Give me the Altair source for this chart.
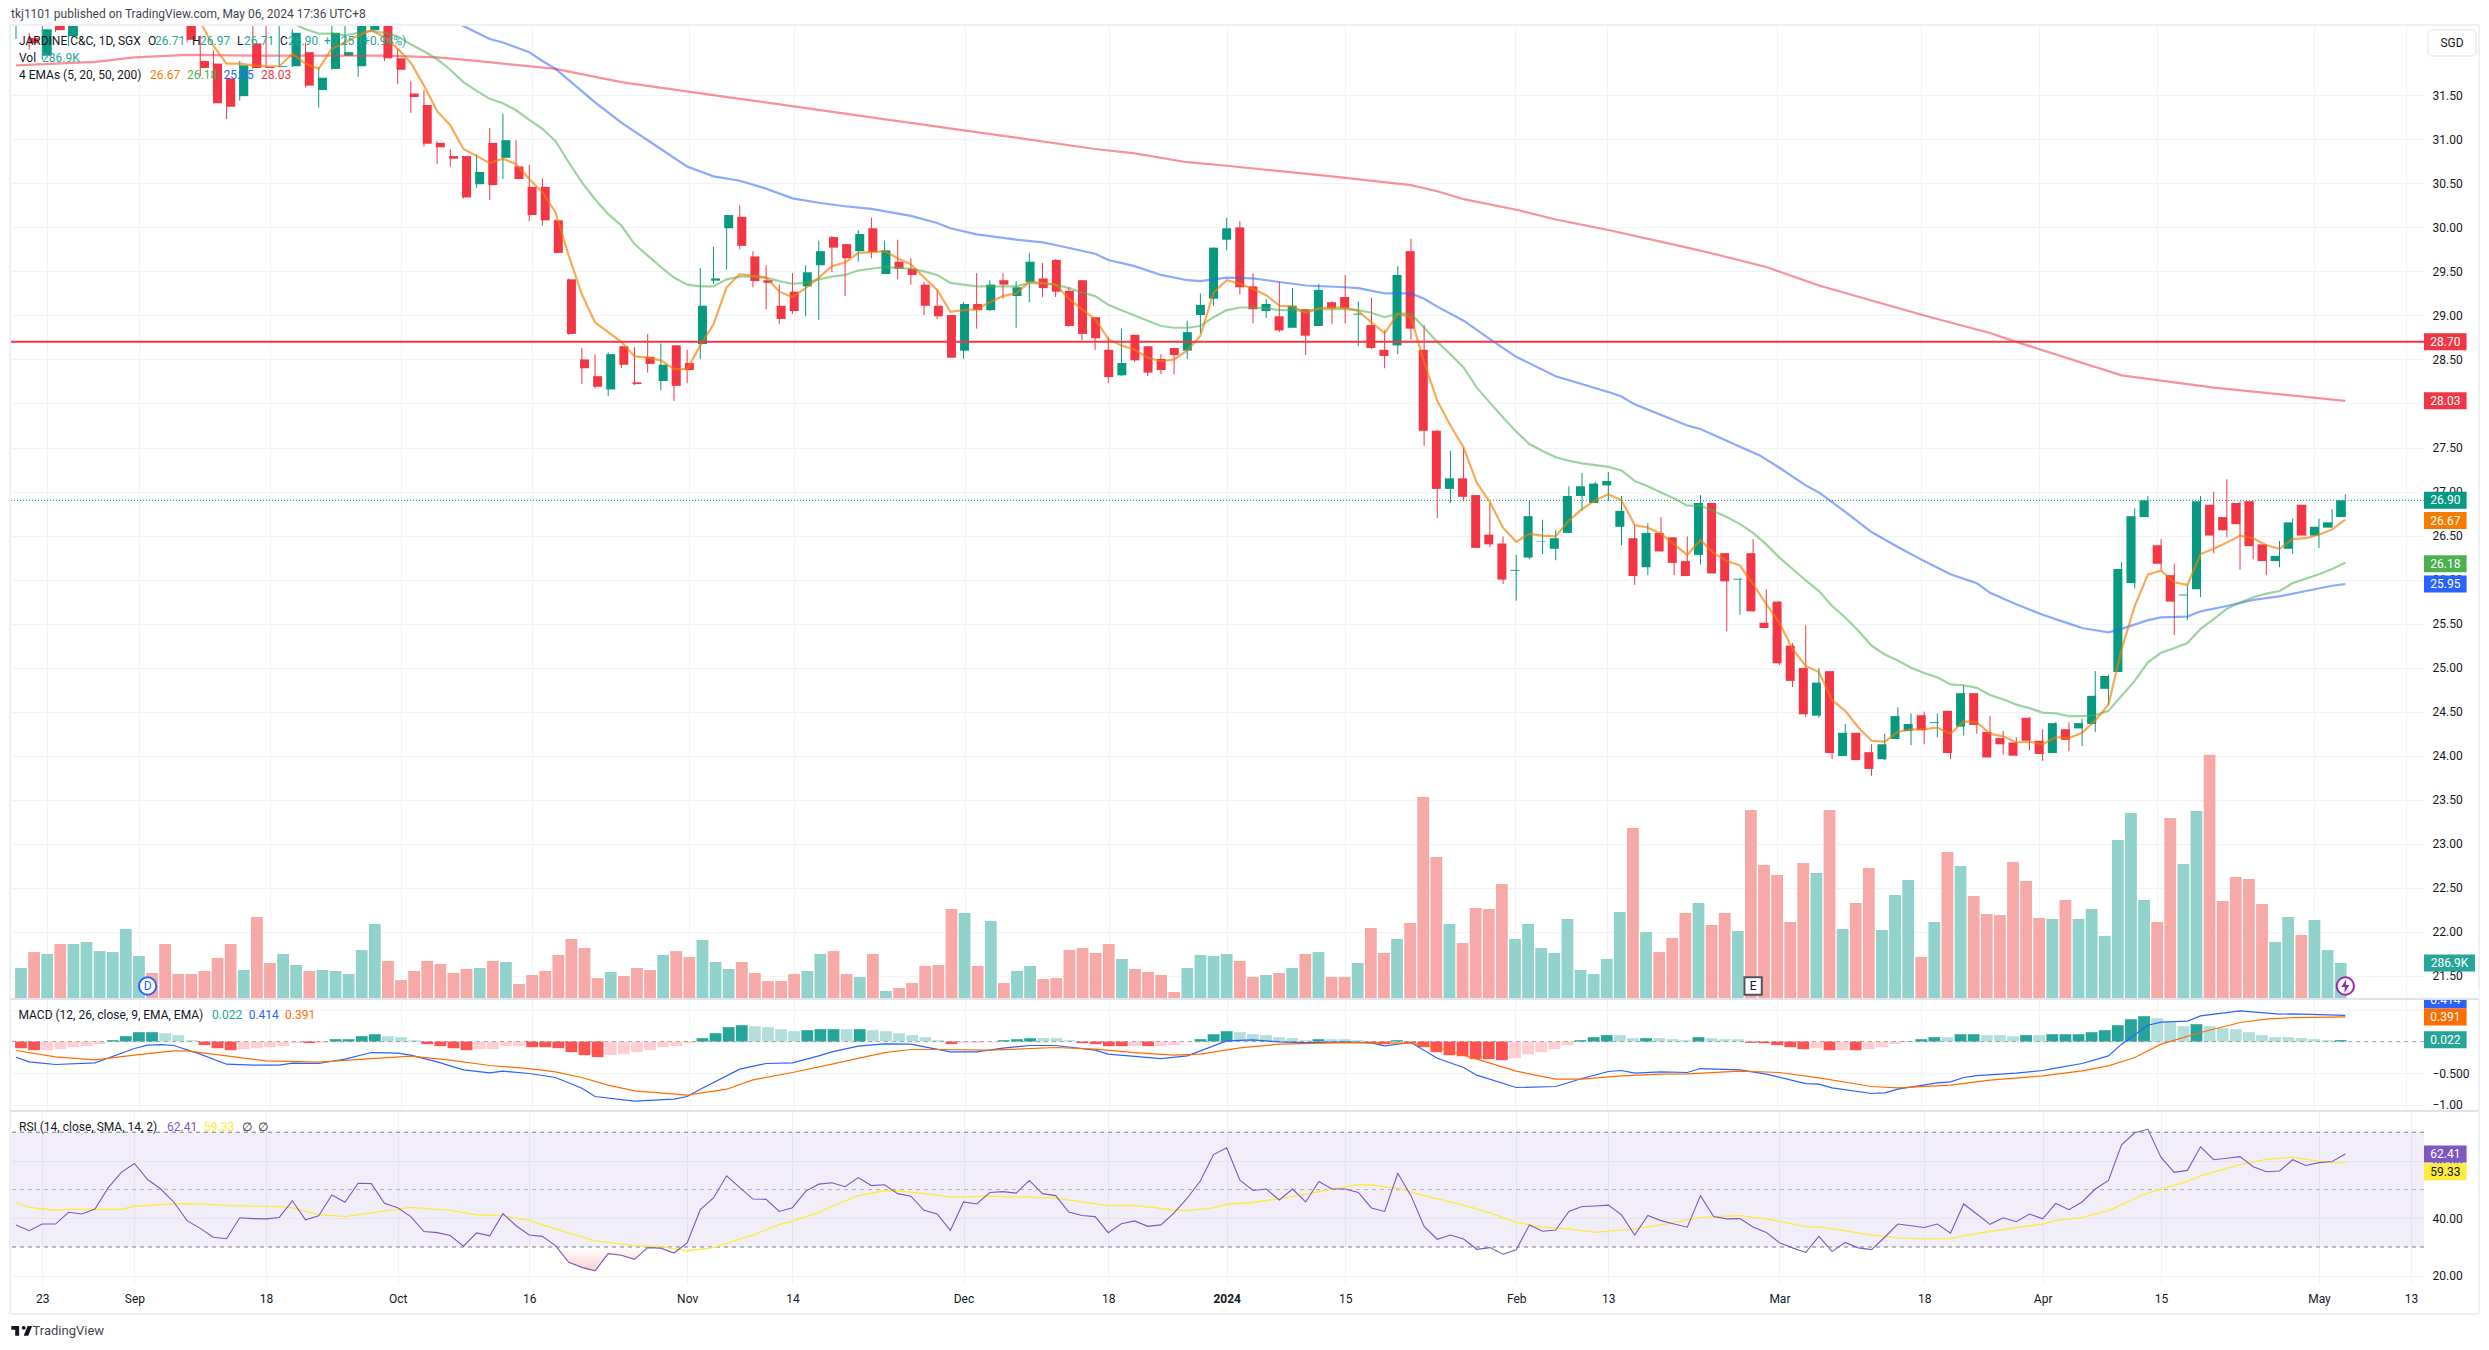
import altair as alt
import pandas as pd

FONT = "Roboto"
GRID = "#f2f3f6"
FRAME = "#eef0f6"
SEP = "#e0e3eb"
UP = "#089981"
DOWN = "#f23645"

# index of every traded bar runs 0..177; tick labels sit on these bars
tick_idx = [2, 9, 19, 29, 39, 51, 59, 72, 83, 92, 101, 114, 121, 134, 145, 154, 163, 175, 182]
tick_txt = ["23", "Sep", "18", "Oct", "16", "Nov", "14", "Dec", "18", "2024", "15", "Feb", "13", "Mar", "18", "Apr", "15", "May", "13"]

opens = [32.50,32.15,31.95,32.35,32.17,32.50,32.90,33.10,33.30,33.50,33.65,33.40,33.10,32.60,31.89,31.86,31.69,31.49,32.09,31.82,
31.82,31.83,31.99,31.56,31.80,31.95,31.83,32.24,32.40,31.92,31.52,31.39,30.96,30.81,30.81,30.49,30.96,30.79,30.69,30.46,
30.46,30.08,29.41,28.50,28.31,28.16,28.65,28.24,28.53,28.255,28.66,28.46,28.675,29.395,29.99,30.12,29.67,29.40,29.11,29.27,
29.33,29.57,29.89,29.81,29.73,29.99,29.47,29.61,29.53,29.35,29.11,29.005,28.60,29.13,29.06,29.40,29.22,29.38,29.42,29.63,
29.28,29.40,28.98,28.61,28.32,28.78,28.65,28.505,28.63,28.60,29.005,29.19,29.86,30.00,29.33,29.05,28.99,28.86,29.07,28.88,
29.15,29.21,29.01,28.89,28.61,28.66,29.73,28.61,27.69,27.03,27.15,26.96,26.51,26.41,26.10,26.25,26.43,26.35,26.53,26.95,
26.87,27.07,26.60,26.47,26.14,26.53,26.48,26.21,26.28,26.87,26.30,26.00,26.30,25.51,25.75,25.25,24.996,24.455,24.96,23.997,
24.26,24.04,23.96,24.19,24.28,24.46,24.37,24.51,24.33,24.71,24.27,24.20,24.15,24.43,24.17,24.03,24.30,24.31,24.36,24.76,
24.95,25.96,26.71,26.39,26.05,25.82,25.89,26.85,26.71,26.87,26.89,26.40,26.21,26.35,26.85,26.50,26.59,26.71]
highs = [32.80,32.21,32.35,32.40,32.40,33.00,33.20,33.40,33.60,33.70,33.70,33.50,33.20,32.70,32.18,32.01,31.69,31.89,32.35,32.40,
32.40,32.25,32.10,31.82,32.35,32.40,32.50,32.35,32.50,32.03,31.66,31.56,30.98,30.89,30.81,30.83,31.13,31.29,30.99,30.71,
30.56,30.09,29.42,28.63,28.56,28.58,28.65,28.64,28.79,28.68,28.66,28.61,29.54,29.78,30.14,30.25,29.73,29.57,29.35,29.48,
29.57,29.85,29.90,29.81,29.97,30.11,29.85,29.86,29.65,29.38,29.30,29.005,29.15,29.48,29.40,29.48,29.39,29.71,29.595,29.64,
29.32,29.40,28.98,28.755,28.85,28.78,28.65,28.56,28.63,28.94,29.25,29.77,30.11,30.07,29.48,29.19,29.38,29.31,29.07,29.36,
29.16,29.46,29.16,29.20,28.83,29.56,29.87,28.89,27.70,27.46,27.50,26.96,26.87,26.49,26.28,26.90,26.68,26.56,27.06,27.21,
27.11,27.22,26.95,26.62,26.64,26.71,26.48,26.49,26.96,26.87,26.30,26.01,26.46,25.89,25.75,25.28,25.48,24.995,24.96,24.36,
24.26,24.13,24.25,24.55,24.48,24.50,24.48,24.51,24.80,24.71,24.45,24.28,24.21,24.44,24.30,24.38,24.38,24.42,24.96,24.92,
26.20,26.81,26.95,26.46,26.18,25.94,26.95,27.00,27.14,26.89,26.89,26.40,26.44,26.69,26.85,26.69,26.80,26.97]
lows = [32.14,32.02,31.90,32.22,32.06,32.45,32.80,33.00,33.20,33.40,33.30,33.00,32.50,32.10,31.72,31.41,31.23,31.44,31.80,31.81,
31.82,31.82,31.59,31.36,31.79,31.95,31.71,32.24,31.89,31.63,31.30,30.92,30.72,30.69,30.33,30.45,30.31,30.55,30.55,30.07,
30.02,29.71,28.78,28.22,28.17,28.085,28.40,28.21,28.35,28.15,28.03,28.23,28.505,29.36,29.52,29.75,29.32,29.07,28.90,29.02,
28.99,28.95,29.49,29.22,29.61,29.65,29.47,29.41,29.35,29.005,28.96,28.52,28.505,28.85,29.05,29.19,28.86,29.15,29.21,29.21,
28.87,28.72,28.61,28.23,28.31,28.47,28.31,28.33,28.33,28.505,28.80,29.11,29.74,29.24,28.91,28.97,28.81,28.86,28.55,28.88,
28.90,28.91,28.65,28.62,28.40,28.56,28.73,27.52,26.70,26.87,26.89,26.36,26.37,25.95,25.76,26.23,26.29,26.22,26.53,26.78,
26.87,26.89,26.39,25.94,26.05,26.32,26.05,26.04,26.17,26.07,25.41,25.60,25.64,25.45,25.03,24.78,24.44,24.43,23.96,24.00,
23.95,23.77,23.95,24.19,24.12,24.13,24.21,23.96,24.23,24.25,23.98,24.01,24.00,24.06,23.94,24.03,24.05,24.11,24.27,24.58,
24.95,25.90,26.71,26.11,25.37,25.54,25.80,26.30,26.48,26.11,26.23,26.05,26.14,26.29,26.50,26.36,26.59,26.71]
closes = [32.70,32.09,32.25,32.24,32.35,32.90,33.10,33.30,33.50,33.65,33.40,33.10,32.60,32.13,31.81,31.41,31.37,31.84,31.81,31.81,
31.83,32.21,31.61,31.70,32.21,31.99,32.42,32.35,31.92,31.79,31.48,30.95,30.91,30.78,30.34,30.63,30.48,30.99,30.55,30.14,
30.08,29.71,28.79,28.40,28.19,28.56,28.44,28.22,28.45,28.44,28.20,28.38,29.11,29.42,30.14,29.79,29.39,29.37,28.96,29.05,
29.49,29.73,29.77,29.65,29.925,29.72,29.74,29.53,29.46,29.11,28.99,28.52,29.13,29.06,29.35,29.35,29.32,29.61,29.31,29.27,
28.88,28.79,28.74,28.30,28.46,28.49,28.35,28.38,28.55,28.81,29.12,29.77,29.99,29.32,29.07,29.13,28.83,29.11,28.77,29.29,
29.08,29.08,29.02,28.63,28.54,29.46,28.85,27.69,27.03,27.15,26.94,26.36,26.40,26.00,26.11,26.72,26.435,26.47,26.95,27.06,
27.09,27.12,26.78,26.04,26.53,26.32,26.19,26.04,26.87,26.07,25.98,26.01,25.64,25.45,25.05,24.85,24.47,24.83,24.03,24.26,
23.95,23.85,24.13,24.45,24.36,24.29,24.38,24.03,24.71,24.35,23.98,24.13,24.00,24.17,24.02,24.37,24.18,24.37,24.68,24.905,
26.12,26.72,26.90,26.18,25.75,25.83,26.89,26.50,26.56,26.63,26.38,26.21,26.27,26.65,26.50,26.60,26.65,26.90]
volume_k = [247,374,359,438,438,454,382,374,558,343,207,438,199,199,223,327,438,231,653,287,
359,271,223,231,223,199,390,598,303,151,223,303,279,207,239,247,303,295,120,191,
223,351,478,406,167,215,183,247,231,351,382,335,470,295,239,295,207,143,143,199,
223,359,382,199,175,359,64,88,127,263,271,717,685,263,622,127,223,263,159,167,
390,406,367,438,319,239,215,191,56,247,351,343,359,303,175,191,207,247,359,374,
175,175,287,566,367,478,606,1610,1131,598,446,725,717,916,478,598,406,367,637,231,
199,319,693,1363,534,374,486,685,765,590,685,542,1506,1068,988,614,1084,1004,1506,558,
765,1044,550,829,948,335,614,1171,1060,821,677,669,1092,940,645,637,789,637,717,502,
1267,1482,789,614,1442,1076,1498,1947,781,972,956,757,454,653,510,629,390,287]

ema5_start = 13
ema5 = [32.60,32.33,32.06,31.86,31.86,31.84,31.83,31.83,31.97,31.86,31.80,32.03,32.10,32.18,32.24,32.16,32.03,31.87,31.61,31.32,
31.16,30.89,30.81,30.73,30.78,30.72,30.55,30.40,30.17,29.68,29.24,28.92,28.81,28.70,28.535,28.52,28.49,28.39,28.39,28.66,
28.90,29.32,29.47,29.45,29.43,29.27,29.21,29.31,29.43,29.56,29.60,29.71,29.72,29.73,29.65,29.58,29.43,29.29,29.04,29.06,
29.07,29.15,29.22,29.25,29.38,29.37,29.35,29.19,29.07,28.96,28.73,28.66,28.61,28.52,28.48,28.50,28.60,28.77,29.26,29.40,
29.36,29.30,29.23,29.11,29.10,29.03,29.08,29.09,29.09,29.05,28.92,28.80,29.02,28.98,28.47,28.03,27.75,27.50,27.10,26.88,
26.59,26.43,26.52,26.50,26.49,26.67,26.80,26.90,26.97,26.90,26.62,26.59,26.52,26.40,26.28,26.45,26.30,26.21,26.16,25.95,
25.72,25.51,25.21,25.02,24.95,24.63,24.51,24.32,24.17,24.16,24.27,24.30,24.30,24.32,24.25,24.39,24.38,24.25,24.22,24.15,
24.16,24.13,24.21,24.20,24.26,24.40,24.58,25.21,25.70,26.06,26.10,25.97,25.94,26.29,26.35,26.42,26.50,26.47,26.39,26.35,
26.46,26.47,26.51,26.57,26.68]

ema20_start = 21
ema20 = [32.32,32.25,32.20,32.20,32.18,32.21,32.23,32.21,32.17,32.08,32.00,31.91,31.79,31.65,31.55,31.46,31.41,31.33,31.22,31.12,
30.98,30.74,30.51,30.32,30.15,30.02,29.81,29.68,29.55,29.43,29.35,29.33,29.33,29.41,29.44,29.44,29.43,29.39,29.36,29.37,
29.41,29.44,29.46,29.51,29.53,29.55,29.54,29.53,29.50,29.46,29.37,29.35,29.33,29.33,29.33,29.33,29.37,29.36,29.35,29.31,
29.26,29.22,29.12,29.06,29.00,28.94,28.88,28.86,28.86,28.88,28.98,29.06,29.09,29.09,29.08,29.06,29.06,29.05,29.07,29.07,
29.07,29.06,29.03,28.98,29.02,29.02,28.86,28.70,28.56,28.41,28.18,28.01,27.84,27.68,27.54,27.46,27.39,27.35,27.32,27.30,
27.28,27.24,27.12,27.06,26.99,26.92,26.84,26.84,26.78,26.71,26.63,26.53,26.40,26.25,26.12,25.99,25.87,25.70,25.57,25.42,
25.25,25.15,25.08,25.00,24.94,24.89,24.81,24.80,24.77,24.69,24.64,24.58,24.54,24.49,24.48,24.45,24.45,24.46,24.51,24.68,
24.85,25.06,25.17,25.22,25.28,25.44,25.55,25.67,25.74,25.80,25.84,25.87,25.96,26.01,26.06,26.12,26.19]

ema50_idx = [33,36,37,39,40,41,44,46,49,51,53,55,57,59,61,63,65,68,70,71,73,76,78,79,82,83,85,87,89,90,92,94,96,98,101,102,104,106,107,108,110,112,114,117,121,122,123,127,128,131,132.5,134,136,137,139,141,143,145,147,149,150,152,154,156,157,159,160,162,163,165,166,168,170,172,174,176,177]
ema50_val = [32.36,32.14,32.10,31.99,31.89,31.80,31.42,31.19,30.89,30.69,30.58,30.53,30.44,30.33,30.28,30.24,30.21,30.13,30.05,29.99,29.92,29.86,29.83,29.80,29.70,29.63,29.56,29.46,29.40,29.39,29.43,29.42,29.38,29.34,29.32,29.31,29.25,29.25,29.19,29.10,28.94,28.73,28.53,28.31,28.13,28.08,27.99,27.75,27.71,27.51,27.41,27.27,27.07,26.99,26.77,26.54,26.37,26.21,26.06,25.96,25.85,25.72,25.60,25.50,25.45,25.40,25.44,25.54,25.57,25.58,25.64,25.70,25.77,25.81,25.87,25.93,25.95]

ema200_idx = [0,3,6,9,13,19,28,32,35,41,46,55,65,75,82,85,89,92,100,106,108,110,114,117,121,127,129,133,137,145,150,152,160,167,177]
ema200_val = [31.84,31.86,31.88,31.93,31.96,31.95,31.95,31.93,31.89,31.80,31.65,31.46,31.25,31.04,30.89,30.84,30.74,30.70,30.58,30.48,30.41,30.32,30.20,30.09,29.97,29.77,29.70,29.55,29.34,29.00,28.80,28.70,28.32,28.18,28.03]

hist = [-.106,-.138,-.138,-.122,-.09,-.074,-.042,.021,.085,.148,.148,.132,.101,.021,-.058,-.106,-.138,-.122,-.106,-.09,
-.074,-.026,-.026,-.026,.037,.037,.085,.116,.085,.069,.021,-.042,-.074,-.106,-.138,-.122,-.122,-.074,-.074,-.09,
-.09,-.106,-.169,-.217,-.249,-.217,-.201,-.169,-.138,-.09,-.074,-.026,.053,.132,.228,.259,.243,.228,.196,.164,
.18,.196,.196,.196,.196,.18,.164,.132,.101,.069,.021,-.042,-.021,-.021,-.005,.021,.037,.053,.053,.053,
.021,-.026,-.042,-.074,-.074,-.074,-.074,-.074,-.058,-.003,.037,.116,.164,.148,.116,.101,.069,.053,.021,.037,
.037,.037,.021,-.026,-.042,.021,-.021,-.09,-.169,-.217,-.233,-.28,-.28,-.296,-.265,-.201,-.169,-.122,-.058,.021,
.069,.101,.101,.053,.053,.053,.037,.021,.069,.053,.037,.037,-.021,-.026,-.058,-.09,-.122,-.106,-.138,-.138,
-.138,-.122,-.09,-.042,.005,.037,.069,.069,.116,.116,.101,.101,.085,.101,.101,.116,.116,.116,.148,.18,
.259,.354,.402,.37,.307,.243,.275,.243,.212,.196,.148,.101,.069,.069,.053,.037,.021,.022]
hist_tone = list("DDPPPPPDDD" "DPPPDDDPPP" "PPDPDDDDPP" "PDDDDPPPPD" "DDDDDPPPPP" "PPDDDDPPPP" "DDDPDPPPPP" "PDPPPDDDPP" "PDDDDPDPPP"
"DDDPPPPPPD" "PPPDDDDDDD" "DDDDPPPPPD" "DDPPDPPPDP" "PPDDDDDPDP" "DPPPDDDPDD" "PPPDPDDDDD" "DDDPPPDPPP" "PPPPPPPD")

macd_idx = [0,1,3,6,9,10,11,12,14,16,18,20,21,23,25,27,29,30,32,34,36,37,39,41,43,44,47,50,51,52,55,57,59,61,62,64,66,68,71,73,75,77,79,82,83,87,89,92,94,96,98,101,103,104,106,108,110,111,114,117,119,121,122,123,125,127,128,131,133,136,137,138,141,142,143,146,147,148,149,152,154,155,157,159,160,162,163,165,166,169,172,173,177]
macd_val = [-.25,-.323,-.365,-.338,-.111,-.058,-.048,-.063,-.201,-.36,-.376,-.376,-.344,-.349,-.28,-.175,-.185,-.217,-.323,-.45,-.497,-.471,-.508,-.571,-.741,-.873,-.947,-.915,-.873,-.757,-.439,-.349,-.339,-.228,-.164,-.074,-.037,-.042,-.164,-.164,-.106,-.063,-.063,-.138,-.201,-.27,-.228,.011,.026,-.005,-.016,-.005,-.021,-.069,-.016,-.265,-.413,-.534,-.73,-.714,-.587,-.476,-.46,-.503,-.481,-.492,-.429,-.45,-.519,-.667,-.677,-.735,-.825,-.815,-.757,-.656,-.64,-.571,-.54,-.503,-.46,-.423,-.349,-.228,-.042,.259,.307,.323,.407,.487,.434,.439,.414]
signal_idx = [0,3,6,9,12,13,16,19,23,27,30,33,36,39,41,43,45,47,51,54,56,59,62,66,68,70,74,79,82,85,88,90,93,96,101,106,108,111,114,117,119,122,125,127,131,134,137,141,143,147,150,154,157,159,161,163,166,169,171,173,177]
signal_val = [-.143,-.243,-.291,-.217,-.148,-.148,-.228,-.307,-.328,-.27,-.233,-.296,-.381,-.429,-.481,-.571,-.693,-.783,-.852,-.757,-.608,-.492,-.36,-.175,-.127,-.127,-.138,-.095,-.122,-.175,-.217,-.201,-.101,-.042,-.016,-.026,-.095,-.28,-.471,-.598,-.598,-.545,-.519,-.513,-.471,-.492,-.577,-.714,-.735,-.693,-.614,-.545,-.466,-.386,-.254,-.042,.143,.302,.354,.38,.391]

rsi = [37.7,35.7,38.0,38.0,42.1,41.5,43.2,50.6,56.0,59.1,53.5,50.2,45.6,39.2,36.5,33.4,32.9,40.2,39.9,39.8,
40.3,46.1,39.5,40.9,48.1,45.6,52.2,52.1,45.2,43.7,40.6,35.4,35.0,34.0,30.3,34.9,33.9,41.6,37.4,34.2,
33.7,30.5,24.7,22.9,21.7,27.7,27.1,25.7,29.8,29.6,27.9,31.4,43.0,47.1,54.8,50.7,46.7,46.6,42.4,43.7,
49.4,51.9,52.4,51.0,54.2,51.4,51.7,48.6,47.7,42.8,41.5,35.8,45.7,45.0,49.0,49.3,48.8,53.2,48.6,47.9,
42.2,41.0,40.6,35.0,38.1,39.1,37.2,37.7,41.9,47.0,53.1,62.2,64.6,53.3,49.7,50.2,46.4,50.2,45.7,52.8,
50.2,50.2,49.0,43.6,42.4,55.7,47.9,37.2,32.7,34.2,32.8,29.2,29.8,27.5,29.0,37.7,35.5,35.9,42.4,44.1,
44.3,44.6,41.2,34.2,41.0,39.2,38.0,36.9,47.9,40.6,39.8,39.9,37.0,35.1,31.5,29.7,28.1,33.7,28.4,31.6,
29.7,29.1,33.4,38.0,37.4,36.8,38.0,34.8,45.0,41.5,37.9,40.2,38.8,41.5,39.8,45.2,43.0,45.7,50.2,53.2,
65.6,69.8,71.0,61.2,56.0,56.7,64.9,60.4,60.9,61.5,58.0,56.2,56.5,60.4,58.4,59.4,59.8,62.41]
rsi_ma_idx = [0,1,3,4,8,9,12,14,16,20,21,23,25,27,30,33,35,37,39,41,44,47,49,51,53,56,58,59,61,62,64,66,67,70,71,74,77,79,83,85,88,89,91,92,94,96,98,100,102,103,105,107,110,112,114,116,118,120,123,125,128,131,133,136,137,141,143,145,147,148,151,154,155,157,159,162,165,166,169,171,173,175,176,177]
rsi_ma_val = [45.6,43.8,42.8,43.1,43.1,44.2,45.1,45.0,44.4,44.1,43.6,41.3,40.6,41.9,43.8,42.8,41.2,40.9,39.2,36.3,32.1,30.5,30.1,28.7,29.8,34.2,37.8,39.0,42.1,44.2,47.9,49.6,49.6,48.1,47.4,47.7,47.4,47.0,44.4,44.5,42.9,42.7,43.6,44.9,45.6,46.8,48.4,50.2,51.7,51.6,50.4,47.9,44.6,41.9,38.6,36.9,36.3,35.1,36.3,37.7,40.3,40.9,39.8,37.1,37.0,34.2,33.2,32.8,32.9,34.0,36.1,38.0,39.2,40.3,42.7,48.9,52.9,54.8,58.7,60.5,61.3,59.8,59.4,59.33]

price_ticks = [21.5,22,22.5,23,23.5,24,24.5,25,25.5,26,26.5,27,27.5,28,28.5,29,29.5,30,30.5,31,31.5]
macd_ticks = [0.5,0,-0.5,-1]
rsi_ticks = [20,40,60]
hline_price = 28.70
last_close = 26.90
event_bars = {"D": 10, "E": 132, "bolt": 177}

WIDTH = 2413
MAIN_H, MACD_H, RSI_H = 973, 112, 173
X_DOM = [-0.38, 182.98]
P_DOM = [21.237, 32.287]
V_DOM = [0, 7755]
M_DOM = [-1.103, 0.675]
R_DOM = [17.11, 77.39]

bars = pd.DataFrame({"i": range(178), "o": opens, "h": highs, "l": lows, "c": closes, "v": volume_k, "m": hist, "tone": hist_tone, "r": rsi})
bars["d"] = ["up" if c >= o else "down" for o, c in zip(opens, closes)]
bars["hc"] = [("pos" if m >= 0 else "neg") + t for m, t in zip(hist, hist_tone)]


def xq(axis=None):
    return alt.X("i:Q", scale=alt.Scale(domain=X_DOM, nice=False, zero=False), axis=axis, title=None)


def yq(field, dom, axis=None):
    return alt.Y(field, type="quantitative", scale=alt.Scale(domain=dom, nice=False, zero=False), axis=axis, title=None)


def xaxis(labels=False):
    kw = dict(values=tick_idx, grid=True, gridColor=GRID, ticks=False, domain=False, title=None, labels=labels)
    if labels:
        expr = "{" + ",".join(f"'{i}':'{t}'" for i, t in zip(tick_idx, tick_txt)) + "}[''+datum.value]"
        kw.update(labelExpr=expr, labelFont=FONT, labelFontSize=12, labelColor="#131722", labelPadding=9,
                  labelOverlap=False, labelFlush=False,
                  labelFontWeight={"condition": {"test": "datum.value==92", "value": "bold"}, "value": "normal"})
    return alt.Axis(**kw)


def yaxis(values, expr=None):
    kw = dict(values=values, grid=True, gridColor=GRID, ticks=False, domain=False, title=None, orient="right",
              labelFont=FONT, labelFontSize=12, labelColor="#131722", labelPadding=8, labelOverlap=False,
              labelFlush=False, format=".2f")
    if expr:
        kw["labelExpr"] = expr
    return alt.Axis(**kw)


one = alt.Data(values=[{"a": 1}])


def txt(s, x, y, color="#131722", size=12, align="left", weight="normal"):
    return alt.Chart(alt.Data(values=[{"t": s}])).mark_text(
        font=FONT, fontSize=size, color=color, align=align, baseline="middle", fontWeight=weight
    ).encode(x=alt.value(x), y=alt.value(y), text="t:N")


def tag(label, color, dom=None, val=None, ypx=None, w=42.6, fg="#ffffff"):
    path = f"M0,-8.5H{w}V8.5H0Z"
    base = alt.Chart(alt.Data(values=[{"v": val if val is not None else 0, "t": label}]))
    ye = alt.value(ypx) if ypx is not None else yq("v", dom)
    box = base.mark_point(shape=path, size=4, filled=True, fill=color, opacity=1, strokeWidth=0).encode(x=alt.value(WIDTH), y=ye)
    lab = base.mark_text(font=FONT, fontSize=12, color=fg, align="center", baseline="middle").encode(
        x=alt.value(WIDTH + w / 2), y=ye, text="t:N")
    return [box, lab]


def hrule(y, color, x1=-1, x2=2468, w=2):
    return alt.Chart(one).mark_rule(color=color, strokeWidth=w).encode(x=alt.value(x1), x2=alt.value(x2), y=alt.value(y))


def vrule(x, y1, y2, color=FRAME, w=2):
    return alt.Chart(one).mark_rule(color=color, strokeWidth=w).encode(x=alt.value(x), y=alt.value(y1), y2=alt.value(y2))


def line(df, field, dom, color, w, op=1.0):
    return alt.Chart(df).mark_line(color=color, strokeWidth=w, opacity=op, clip=True).encode(x=xq(), y=yq(field, dom))


def hline(value, dom, color, w=1, dash=None, op=1.0):
    kw = dict(color=color, strokeWidth=w, opacity=op, clip=True)
    if dash:
        kw["strokeDash"] = dash
    return alt.Chart(alt.Data(values=[{"v": value}])).mark_rule(**kw).encode(y=yq("v", dom))


B = alt.Chart(bars)

# ---------- price + volume pane ----------
dcol = alt.Color("d:N", scale=alt.Scale(domain=["up", "down"], range=[UP, DOWN]), legend=None)
vcol = alt.Color("d:N", scale=alt.Scale(domain=["up", "down"], range=["#92d2cc", "#f7a9a7"]), legend=None)
vol = B.mark_bar(size=11.8, clip=True).encode(x=xq(xaxis()), y=yq("v", V_DOM), color=vcol)
wick = B.mark_rule(strokeWidth=1, clip=True).encode(x=xq(), y=yq("l", P_DOM, yaxis(price_ticks)), y2="h:Q", color=dcol)
body = B.mark_bar(size=9, clip=True).encode(x=xq(), y=yq("o", P_DOM), y2="c:Q", color=dcol)

e5 = pd.DataFrame({"i": range(ema5_start, ema5_start + len(ema5)), "e": ema5})
e20 = pd.DataFrame({"i": range(ema20_start, ema20_start + len(ema20)), "e": ema20})
e50 = pd.DataFrame({"i": ema50_idx, "e": ema50_val})
e200 = pd.DataFrame({"i": ema200_idx, "e": ema200_val})

events = alt.Chart(pd.DataFrame({"i": [event_bars["D"], event_bars["bolt"]], "k": ["D", "bolt"]}))
ev_circ = events.mark_point(shape="circle", size=300, filled=True, fill="#ffffff", strokeWidth=2, opacity=1).encode(
    x=xq(), y=alt.value(960),
    stroke=alt.Color("k:N", scale=alt.Scale(domain=["D", "bolt"], range=["#2962ff", "#9c27b0"]), legend=None))
ev_e = alt.Chart(pd.DataFrame({"i": [event_bars["E"]]})).mark_point(shape="square", size=300, filled=True, fill="#ffffff", stroke="#50535e", strokeWidth=2, opacity=1).encode(x=xq(), y=alt.value(960))
ev_d = alt.Chart(pd.DataFrame({"i": [event_bars["D"]], "t": ["D"]})).mark_text(font=FONT, fontSize=12, color="#2962ff").encode(x=xq(), y=alt.value(960), text="t:N")
ev_et = alt.Chart(pd.DataFrame({"i": [event_bars["E"]], "t": ["E"]})).mark_text(font=FONT, fontSize=12, color="#131722").encode(x=xq(), y=alt.value(960), text="t:N")
ev_b = alt.Chart(pd.DataFrame({"i": [event_bars["bolt"]]})).mark_point(shape="M1,-7L-4,1H-0.5L-1,7L4,-1H0.5Z", size=4, filled=True, fill="#9c27b0", strokeWidth=0, opacity=1).encode(x=xq(), y=alt.value(960))

main_layers = [vol, wick, body,
    line(e200, "e", P_DOM, "#f23645", 2.2, 0.55),
    line(e50, "e", P_DOM, "#2962ff", 2.2, 0.55),
    line(e20, "e", P_DOM, "#4caf50", 2.2, 0.55),
    line(e5, "e", P_DOM, "#f57c00", 2.2, 0.65),
    hline(hline_price, P_DOM, "#f23645", 2),
    hline(last_close, P_DOM, UP, 1, [1, 2]),
    ev_circ, ev_e, ev_d, ev_et, ev_b,
]
main_layers += tag("28.70", DOWN, P_DOM, 28.70) + tag("28.03", DOWN, P_DOM, 28.03)
main_layers += tag("26.90", UP, P_DOM, 26.90) + tag("26.67", "#f57c00", P_DOM, 26.67)
main_layers += tag("26.18", "#4caf50", P_DOM, 26.18) + tag("25.95", "#2962ff", P_DOM, 25.95)
main_layers += tag("286.9K", "#26a69a", V_DOM, 286.9, w=51)
LEG = "#131722"
G = "#26a69a"
main_layers += [
    alt.Chart(one).mark_rect(fill="#ffffff", stroke=FRAME, strokeWidth=2, cornerRadius=4).encode(x=alt.value(2417), x2=alt.value(2465), y=alt.value(4), y2=alt.value(30)),
    txt("SGD", 2441, 17, align="center"),
    txt("tkj1101 published on TradingView.com, May 06, 2024 17:36 UTC+8", 0, -12, "#434651", 12),
    txt("JARDINE C&C, 1D, SGX", 8, 15, LEG), txt("O", 137, 15, LEG), txt("26.71", 144, 15, G),
    txt("H", 181, 15, LEG), txt("26.97", 189, 15, G), txt("L", 226, 15, LEG), txt("26.71", 233, 15, G),
    txt("C", 269, 15, LEG), txt("26.90", 277, 15, G), txt("+0.25", 313, 15, G), txt("(+0.94%)", 348, 15, G),
    txt("Vol", 8, 32, LEG), txt("286.9K", 31, 32, G),
    txt("4 EMAs (5, 20, 50, 200)", 8, 49, LEG), txt("26.67", 139, 49, "#f57c00"), txt("26.18", 176, 49, "#4caf50"),
    txt("25.95", 212.6, 49, "#2962ff"), txt("28.03", 250, 49, DOWN),
    hrule(-1, FRAME), vrule(-1, -1, MAIN_H), vrule(2468, -1, MAIN_H),
]
main = alt.layer(*main_layers).resolve_scale(x="independent", y="independent", color="independent", stroke="independent").properties(width=WIDTH, height=MAIN_H)

# ---------- MACD pane ----------
hcol = alt.Color("hc:N", scale=alt.Scale(domain=["posD", "posP", "negP", "negD"], range=["#26a69a", "#b2dfdb", "#ffcdd2", "#ff5252"]), legend=None)
macd_bars = B.mark_bar(size=11.8, clip=True).encode(
    x=xq(xaxis()),
    y=yq("m", M_DOM, yaxis(macd_ticks, "datum.value==-1 ? '−1.00' : datum.value==-0.5 ? '−0.500' : ''")),
    color=hcol)
m_df = pd.DataFrame({"i": macd_idx, "e": macd_val})
s_df = pd.DataFrame({"i": signal_idx, "e": signal_val})
macd_layers = [macd_bars, hline(0, M_DOM, "#787b86", 1, [4, 4], 0.6),
    line(m_df, "e", M_DOM, "#2962ff", 1.2), line(s_df, "e", M_DOM, "#ff6d00", 1.2)]
macd_layers += tag("0.414", "#2962ff", ypx=1) + [
    alt.Chart(one).mark_rect(fill="#ffffff").encode(x=alt.value(WIDTH), x2=alt.value(2468), y=alt.value(-11), y2=alt.value(0))]
macd_layers += tag("0.391", "#ff6d00", M_DOM, 0.391) + tag("0.022", "#26a69a", ypx=40.7)
macd_layers += [
    txt("MACD (12, 26, close, 9, EMA, EMA)", 7.5, 15.7, LEG),
    txt("0.022", 201, 15.7, G), txt("0.414", 237.7, 15.7, "#2962ff"), txt("0.391", 274, 15.7, "#ff6d00"),
    hrule(0, SEP), vrule(-1, 0, MACD_H), vrule(2468, 0, MACD_H),
]
macd = alt.layer(*macd_layers).resolve_scale(x="independent", y="independent").properties(width=WIDTH, height=MACD_H)

# ---------- RSI pane ----------
band = alt.Chart(alt.Data(values=[{"a": 70, "b": 30}])).mark_rect(color="#7e57c2", opacity=0.1).encode(
    x=alt.value(0), x2=alt.value(WIDTH), y=yq("a", R_DOM), y2="b:Q")
rsi_line = B.mark_line(color="#7e57c2", strokeWidth=1.1, clip=True).encode(x=xq(), y=yq("r", R_DOM))
r_df = pd.DataFrame({"i": rsi_ma_idx, "e": rsi_ma_val})
oversold = B.transform_filter("datum.i>=41 && datum.i<=48").transform_calculate(low="min(datum.r,30)", th="30").mark_area(
    clip=True,
    fill=alt.Gradient(gradient="linear", stops=[alt.GradientStop(color="#ffffff", offset=0), alt.GradientStop(color="#fbd0d0", offset=1)], x1=0, x2=0, y1=0, y2=1)
).encode(x=xq(), y=yq("low", R_DOM), y2="th:Q")
grid_r = alt.Chart(pd.DataFrame({"i": [0], "r": [40]})).mark_point(opacity=0).encode(
    x=xq(xaxis(labels=True)), y=yq("r", R_DOM, yaxis(rsi_ticks)))
rsi_layers = [grid_r, band, oversold,
    hline(70, R_DOM, "#787b86", 1, [4, 4]), hline(50, R_DOM, "#787b86", 1, [4, 4], 0.55), hline(30, R_DOM, "#787b86", 1, [4, 4]),
    line(r_df, "e", R_DOM, "#ffeb3b", 1.3), rsi_line]
rsi_layers += tag("62.41", "#7e57c2", R_DOM, 62.41) + tag("59.33", "#ffeb3b", ypx=60.7, fg="#131722")
rsi_layers += [
    txt("RSI (14, close, SMA, 14, 2)", 8, 15.7, LEG),
    txt("62.41", 156, 15.7, "#7e57c2"), txt("59.33", 193, 15.7, "#ffeb3b"), txt("∅", 231, 15.7, LEG), txt("∅", 247, 15.7, LEG),
    hrule(0, SEP), vrule(-1, 0, 203), vrule(2468, 0, 203), hrule(203, FRAME),
    alt.Chart(one).mark_point(shape="M14 6H2v6h6v9h6V6zm14 15h-7l6-15h7l-6 15zm-7-9a3 3 0 1 0 0-6 3 3 0 0 0 0 6z", size=1.7, filled=True, fill="#131722", strokeWidth=0, opacity=1).encode(x=alt.value(-1), y=alt.value(211)),
    txt("TradingView", 21.5, 220, "#434651", 13),
]
rsi_pane = alt.layer(*rsi_layers).resolve_scale(x="independent", y="independent").properties(width=WIDTH, height=RSI_H)

chart = alt.vconcat(main, macd, rsi_pane, spacing=0, bounds="flush").properties(
    padding={"left": 1, "top": 0, "right": 0, "bottom": 0}, background="#ffffff"
).configure_view(stroke=None)

chart.save("out.html", embed_options={"renderer": "svg", "actions": False})
